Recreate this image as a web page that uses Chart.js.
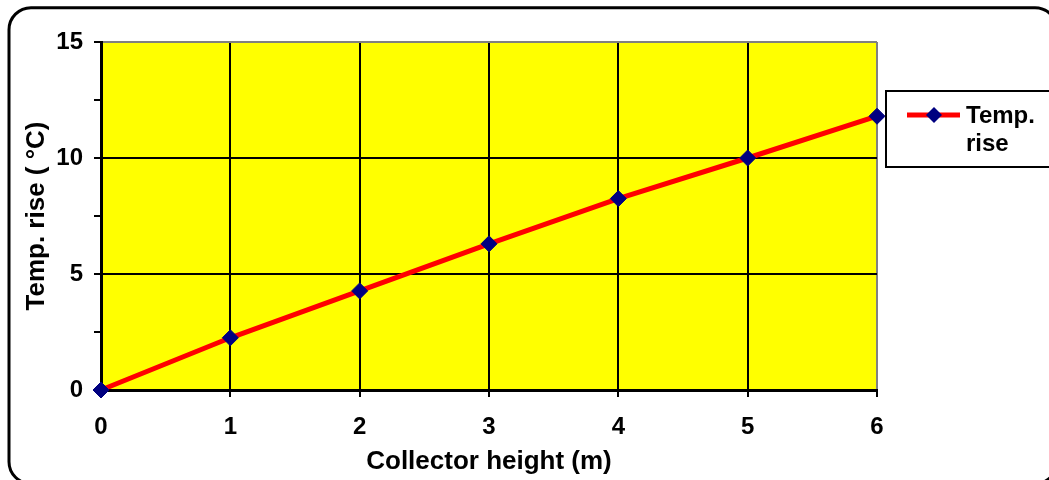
<!DOCTYPE html>
<html>
<head>
<meta charset="utf-8">
<script src="https://cdn.jsdelivr.net/npm/chart.js@4"></script>
<style>
	body { margin: 0; background: #ffffff; }
	#wrap { width: 1049px; height: 480px; }
</style>
</head>
<body>
<div id="wrap"><canvas id="riseChart" width="1049" height="480"></canvas></div>
<script>
//	Collector height (m) and the temperature rise
var heights = [0, 1, 2, 3, 4, 5, 6];
var tempRise = [0, 2.25, 4.27, 6.3, 8.25, 10.0, 11.8];
var seriesName = 'Temp. rise';
var legendLines = ['Temp.', 'rise'];
var xTitle = 'Collector height (m)';
var yTitle = 'Temp. rise ( \u00B0C)';

var boldFont = 'Liberation Sans, Arial, sans-serif';

/**
 *	Yellow plot area, outer rounded frame and the boxed legend
 */
var decorPlugin = {
	id: 'decor',
	beforeDraw: function (chart) {
		var ctx = chart.ctx;
		var a = chart.chartArea;
		ctx.save();
		ctx.fillStyle = '#ffff00';
		ctx.fillRect(a.left, a.top, a.right - a.left, a.bottom - a.top);
		ctx.restore();
	},
	afterDraw: function (chart) {
		var ctx = chart.ctx;
		ctx.save();
		//	outer frame
		ctx.strokeStyle = '#000000';
		ctx.lineWidth = 3;
		ctx.beginPath();
		ctx.roundRect(9, 7.7, 1048, 476, 22);
		ctx.stroke();

		//	legend box
		ctx.lineWidth = 2;
		ctx.strokeRect(886, 91, 180, 76);
		ctx.strokeStyle = '#ff0000';
		ctx.lineWidth = 5;
		ctx.beginPath();
		ctx.moveTo(907, 115);
		ctx.lineTo(960, 115);
		ctx.stroke();
		ctx.fillStyle = '#000080';
		ctx.beginPath();
		ctx.moveTo(934, 107);
		ctx.lineTo(942, 115);
		ctx.lineTo(934, 123);
		ctx.lineTo(926, 115);
		ctx.closePath();
		ctx.fill();

		ctx.fillStyle = '#000000';
		ctx.font = 'bold 24px ' + boldFont;
		ctx.textBaseline = 'alphabetic';
		ctx.textAlign = 'left';
		ctx.fillText(legendLines[0], 966, 123);
		ctx.fillText(legendLines[1], 966, 151);
		ctx.restore();
	}
};

var ctx = document.getElementById('riseChart');
var riseChart = new Chart(ctx, {
	type: 'line',
	data: {
		datasets: [{
			label: seriesName,
			data: heights.map(function (h, i) { return { x: h, y: tempRise[i] }; }),
			borderColor: '#ff0000',
			borderWidth: 5,
			pointStyle: 'rectRot',
			pointRadius: 8,
			pointHoverRadius: 8,
			pointBackgroundColor: '#000080',
			pointBorderColor: '#000080',
			pointBorderWidth: 1,
			tension: 0,
			clip: false
		}]
	},
	options: {
		responsive: false,
		animation: false,
		events: [],
		layout: {
			padding: { left: 0, top: 42, right: 172, bottom: 0 }
		},
		plugins: {
			legend: { display: false },
			tooltip: { enabled: false }
		},
		scales: {
			x: {
				type: 'linear',
				min: 0,
				max: 6,
				afterFit: function (scale) { scale.height = 90; },
				ticks: {
					stepSize: 1,
					color: '#000000',
					padding: 16,
					font: { family: boldFont, size: 24, weight: 'bold' }
				},
				grid: {
					color: function (c) { return c.tick && c.tick.value === 6 ? '#808080' : '#000000'; },
					lineWidth: 2,
					tickLength: 7,
					tickColor: '#000000',
					tickWidth: 2
				},
				border: { color: '#000000', width: 3 },
				title: {
					display: true,
					text: xTitle,
					color: '#000000',
					padding: { top: 0, bottom: 3 },
					font: { family: boldFont, size: 26, weight: 'bold' }
				}
			},
			y: {
				min: 0,
				max: 15,
				afterFit: function (scale) { scale.width = 101; },
				ticks: {
					stepSize: 2.5,
					color: '#000000',
					padding: 11,
					font: { family: boldFont, size: 24, weight: 'bold' },
					callback: function (v) { return v % 5 === 0 ? v : ''; }
				},
				grid: {
					color: function (c) {
						if (!c.tick) return '#000000';
						if (c.tick.value === 15) return '#808080';
						return c.tick.value % 5 === 0 ? '#000000' : 'rgba(0,0,0,0)';
					},
					lineWidth: 2,
					tickLength: 7,
					tickColor: '#000000',
					tickWidth: 2
				},
				border: { color: '#000000', width: 3 },
				title: {
					display: true,
					text: yTitle,
					color: '#000000',
					padding: { top: 21, bottom: 0 },
					font: { family: boldFont, size: 26, weight: 'bold' }
				}
			}
		}
	},
	plugins: [decorPlugin]
});
</script>
</body>
</html>
